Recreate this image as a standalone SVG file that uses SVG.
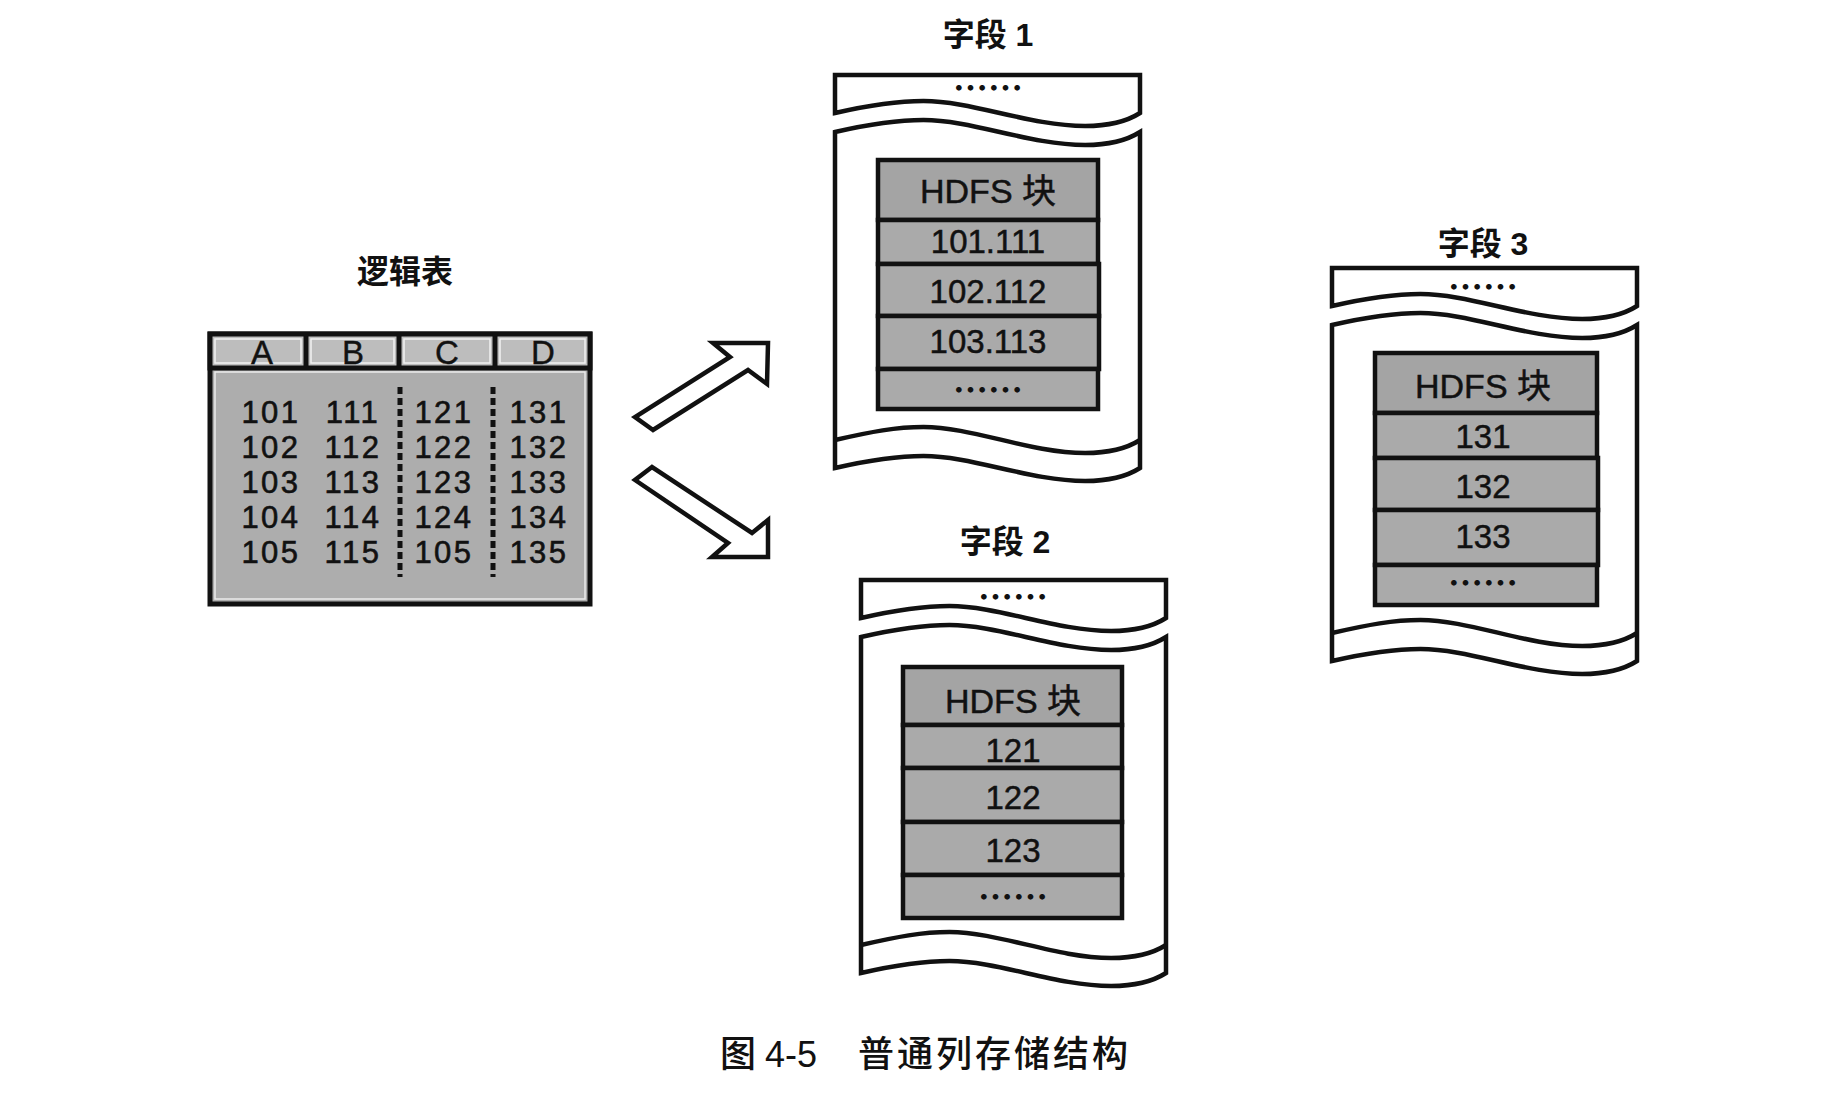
<svg xmlns="http://www.w3.org/2000/svg" xmlns:xlink="http://www.w3.org/1999/xlink" width="1842" height="1100" viewBox="0 0 1842 1100">
  <style>
    .outline { fill: #fff; stroke: #111; stroke-width: 4.5; stroke-linejoin: miter; }
    .wave { fill: none; stroke: #111; stroke-width: 4.5; }
    .cell { fill: #aaaaaa; stroke: #111; stroke-width: 4.5; }
    .cell-head { fill: #a4a4a4; stroke: #111; stroke-width: 4.5; }
    .title { font-family: "Liberation Sans", "Noto Sans CJK SC", sans-serif; font-size: 32px; font-weight: bold; fill: #111; text-anchor: middle; }
    .num { font-family: "Liberation Sans", Arial, sans-serif; font-size: 31px; fill: #111; stroke: #111; stroke-width: 0.6; text-anchor: middle; letter-spacing: 2.5px; }
    .hdr { font-family: "Liberation Sans", Arial, sans-serif; font-size: 33px; fill: #111; stroke: #111; stroke-width: 0.4; text-anchor: middle; }
    .blk { font-family: "Liberation Sans", "Noto Sans CJK SC", sans-serif; font-size: 33px; fill: #111; stroke: #111; stroke-width: 0.5; text-anchor: middle; }
    .blk-h { font-size: 34px; }
    .dots { font-family: "Noto Sans CJK SC", sans-serif; font-size: 35px; font-weight: bold; fill: #111; text-anchor: middle; }
    .arrow { fill: #fff; stroke: #111; stroke-width: 4.5; stroke-linejoin: miter; }
    .cap { font-family: "Liberation Sans", "Noto Sans CJK SC", sans-serif; font-size: 36px; font-weight: 500; fill: #111; }
  </style>

  <defs>
    <!-- torn-page container: top strip, body and the inner wave near the bottom -->
    <path id="scroll-top" d="M0,0 H305 V38 C292.8,45.8 274.5,51 250.1,51 C195.2,51 137.3,26 88.5,26 C61,26 36.6,29.6 0,38 Z"/>
    <path id="scroll-body" d="M0,57 C36.6,48.6 61,45 88.5,45 C137.3,45 195.2,70 250.1,70 C274.5,70 292.8,64.8 305,57 V393 C292.8,400.8 274.5,406 250.1,406 C195.2,406 137.3,381 88.5,381 C61,381 36.6,384.6 0,393 Z"/>
    <path id="scroll-wave" d="M0,365 C36.6,356.6 61,352 88.5,352 C137.3,352 195.2,378 250.1,378 C274.5,378 292.8,372.8 305,365"/>
  </defs>

  <rect width="1842" height="1100" fill="#fff"/>

  <!-- logical table -->
  <g id="logic-table">
    <text class="title" x="405" y="283">逻辑表</text>
    <rect x="210" y="334" width="380" height="270" fill="#adadad" stroke="#111" stroke-width="5"/>
    <rect x="215" y="372" width="370" height="227" fill="none" stroke="#fff" stroke-width="1.5" opacity="0.75"/>
    <rect x="210" y="334" width="380" height="34" fill="#bdbdbd" stroke="#111" stroke-width="5"/>
    <g fill="none" stroke="#fff" stroke-width="1.5" opacity="0.8">
      <rect x="215" y="339" width="86" height="24"/>
      <rect x="311" y="339" width="83" height="24"/>
      <rect x="404" y="339" width="86" height="24"/>
      <rect x="500" y="339" width="85" height="24"/>
    </g>
    <g stroke="#111" stroke-width="5">
      <line x1="306" y1="334" x2="306" y2="368"/>
      <line x1="399" y1="334" x2="399" y2="368"/>
      <line x1="495" y1="334" x2="495" y2="368"/>
    </g>
    <g stroke="#111" stroke-width="5" stroke-dasharray="7 4">
      <line x1="400" y1="387" x2="400" y2="577"/>
      <line x1="493" y1="387" x2="493" y2="577"/>
    </g>
    <text class="hdr" x="262" y="364">A</text>
    <text class="hdr" x="353" y="364">B</text>
    <text class="hdr" x="447" y="364">C</text>
    <text class="hdr" x="543" y="364">D</text>
    <!-- one text per column, rows as tspans -->
    <text class="num"><tspan x="271" y="423">101</tspan><tspan x="271" y="458">102</tspan><tspan x="271" y="493">103</tspan><tspan x="271" y="528">104</tspan><tspan x="271" y="563">105</tspan></text>
    <text class="num"><tspan x="353" y="423">111</tspan><tspan x="353" y="458">112</tspan><tspan x="353" y="493">113</tspan><tspan x="353" y="528">114</tspan><tspan x="353" y="563">115</tspan></text>
    <text class="num"><tspan x="444" y="423">121</tspan><tspan x="444" y="458">122</tspan><tspan x="444" y="493">123</tspan><tspan x="444" y="528">124</tspan><tspan x="444" y="563">105</tspan></text>
    <text class="num"><tspan x="539" y="423">131</tspan><tspan x="539" y="458">132</tspan><tspan x="539" y="493">133</tspan><tspan x="539" y="528">134</tspan><tspan x="539" y="563">135</tspan></text>
  </g>

  <!-- connectors: hollow arrows from the table to the field files -->
  <g id="connectors">
    <polygon class="arrow" points="653,430 635,417 730,357 713,343 768,343 767,384 748,370"/>
    <polygon class="arrow" points="652,467 635,480 728,543 712,557 768,557 768,520 752,533"/>
  </g>

  <!-- field 1 -->
  <text class="title" x="988" y="46">字段 1</text>
  <g id="field-1" transform="translate(835,75)">
    <use xlink:href="#scroll-top" class="outline"/>
    <use xlink:href="#scroll-body" class="outline"/>
    <use xlink:href="#scroll-wave" class="wave"/>
    <text class="dots" x="153" y="26">……</text>
    <rect class="cell-head" x="43" y="85" width="220" height="60"/>
    <rect class="cell" x="43" y="145" width="220" height="44"/>
    <rect class="cell" x="43" y="189" width="221" height="52"/>
    <rect class="cell" x="43" y="241" width="221" height="53"/>
    <rect class="cell" x="43" y="294" width="220" height="40"/>
    <text class="blk blk-h" x="153" y="128">HDFS 块</text>
    <text class="blk" x="153" y="178">101.111</text>
    <text class="blk" x="153" y="228">102.112</text>
    <text class="blk" x="153" y="278">103.113</text>
    <text class="dots" x="153" y="328">……</text>
  </g>

  <!-- field 2 -->
  <text class="title" x="1005" y="553">字段 2</text>
  <g id="field-2" transform="translate(861,580)">
    <use xlink:href="#scroll-top" class="outline"/>
    <use xlink:href="#scroll-body" class="outline"/>
    <use xlink:href="#scroll-wave" class="wave"/>
    <text class="dots" x="152" y="30">……</text>
    <rect class="cell-head" x="42" y="87" width="219" height="58"/>
    <rect class="cell" x="42" y="145" width="219" height="43"/>
    <rect class="cell" x="42" y="188" width="219" height="54"/>
    <rect class="cell" x="42" y="242" width="219" height="53"/>
    <rect class="cell" x="42" y="295" width="219" height="43"/>
    <text class="blk blk-h" x="152" y="133">HDFS 块</text>
    <text class="blk" x="152" y="182">121</text>
    <text class="blk" x="152" y="229">122</text>
    <text class="blk" x="152" y="282">123</text>
    <text class="dots" x="152" y="330">……</text>
  </g>

  <!-- field 3 -->
  <text class="title" x="1483" y="255">字段 3</text>
  <g id="field-3" transform="translate(1332,268)">
    <use xlink:href="#scroll-top" class="outline"/>
    <use xlink:href="#scroll-body" class="outline"/>
    <use xlink:href="#scroll-wave" class="wave"/>
    <text class="dots" x="151" y="32">……</text>
    <rect class="cell-head" x="43" y="85" width="222" height="60"/>
    <rect class="cell" x="43" y="145" width="222" height="45"/>
    <rect class="cell" x="43" y="190" width="223" height="52"/>
    <rect class="cell" x="43" y="242" width="223" height="55"/>
    <rect class="cell" x="43" y="297" width="222" height="40"/>
    <text class="blk blk-h" x="151" y="130">HDFS 块</text>
    <text class="blk" x="151" y="180">131</text>
    <text class="blk" x="151" y="230">132</text>
    <text class="blk" x="151" y="280">133</text>
    <text class="dots" x="151" y="328">……</text>
  </g>

  <!-- caption -->
  <g id="caption">
    <text class="cap" x="720" y="1067">图</text>
    <text class="cap" x="765" y="1067">4-5</text>
    <text class="cap" x="858" y="1067" letter-spacing="3">普通列存储结构</text>
  </g>
</svg>
